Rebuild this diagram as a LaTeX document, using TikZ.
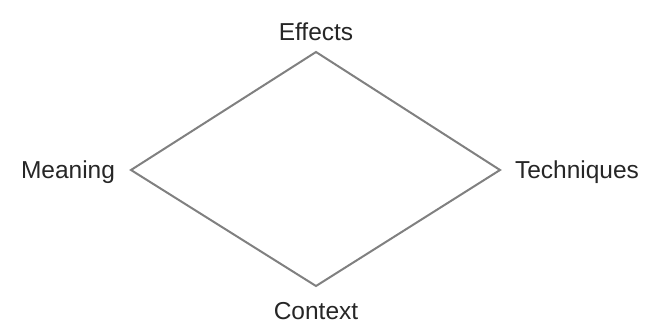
\documentclass[tikz,border=0pt]{standalone}
\usepackage{fontspec}
\setmainfont{Liberation Sans}
\begin{document}
\begin{tikzpicture}[x=1pt,y=-1pt,
  edge/.style={draw=black!50,line width=2pt,line join=miter},
  lbl/.style={font=\fontsize{24.5}{28}\selectfont,text=black!85,inner sep=0pt}]
\useasboundingbox (0,0) rectangle (652,329);
\coordinate (t) at (316,52);
\coordinate (l) at (131,170);
\coordinate (r) at (500,170);
\coordinate (b) at (316,286);
\draw[edge] (t) -- (r) -- (b) -- (l) -- cycle;
\node[lbl] (effects) at (316,32) {Effects};
\node[lbl] (meaning) at (68,172) {Meaning};
\node[lbl] (techniques) at (577,172) {Techniques};
\node[lbl] (context) at (316,311) {Context};
\end{tikzpicture}
\end{document}
